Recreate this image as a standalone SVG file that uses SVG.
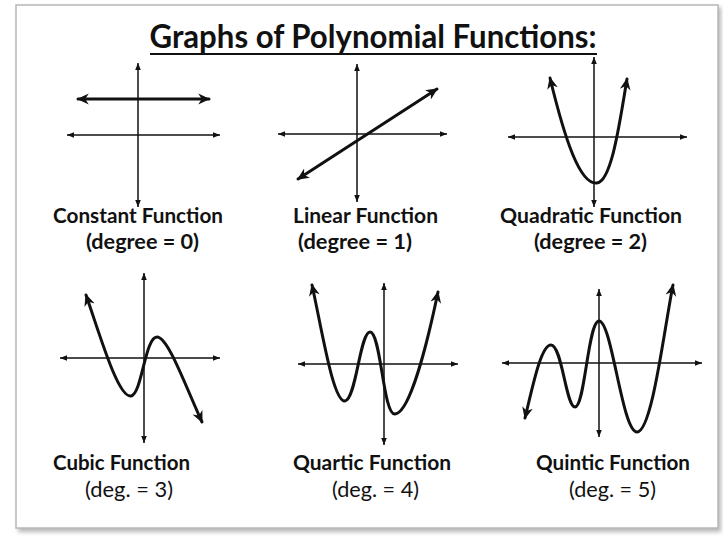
<svg xmlns="http://www.w3.org/2000/svg" width="723" height="536" viewBox="0 0 723 536">
  <defs>
    <marker id="ax" viewBox="0 0 10 10" refX="10" refY="5" markerWidth="7" markerHeight="7" markerUnits="userSpaceOnUse" orient="auto-start-reverse">
      <path d="M0,1 L10,5 L0,9 z" fill="#111"/>
    </marker>
    <marker id="cv" viewBox="0 0 10 10" refX="9" refY="5" markerWidth="12" markerHeight="12" markerUnits="userSpaceOnUse" orient="auto-start-reverse">
      <path d="M0,0.5 L10,5 L0,9.5 L3,5 z" fill="#111"/>
    </marker>
    <filter id="sh" x="-5%" y="-5%" width="110%" height="110%">
      <feGaussianBlur stdDeviation="2"/>
    </filter>
  </defs>
  <style>
    .axis { stroke: #111; stroke-width: 1.5; fill: none; marker-start: url(#ax); marker-end: url(#ax); }
    .curve { stroke: #111; stroke-width: 3; fill: none; stroke-linecap: round; marker-start: url(#cv); marker-end: url(#cv); }
    .t { font-family: Lato, "Open Sans", "Liberation Sans", sans-serif; fill: #111; }
    .name { font-size: 21px; font-weight: bold; }
    .degb { font-size: 21px; font-weight: bold; }
    .deg { font-size: 21px; font-weight: normal; }
  </style>

  <rect width="723" height="536" fill="#ffffff"/>
  <rect x="18" y="7" width="703" height="525" fill="#888" opacity="0.6" filter="url(#sh)"/>
  <rect x="16" y="5" width="702" height="523" fill="#ffffff" stroke="#b8b8b8" stroke-width="1.5"/>

  <g id="title">
    <text class="t" x="373" y="48" text-anchor="middle" font-size="32" font-weight="bold" textLength="447" lengthAdjust="spacingAndGlyphs">Graphs of Polynomial Functions:</text>
    <line x1="150" y1="54" x2="597" y2="54" stroke="#111" stroke-width="2"/>
  </g>

  <g id="constant">
    <line class="axis" x1="138" y1="207" x2="138" y2="63"/>
    <line class="axis" x1="67" y1="135" x2="220" y2="135"/>
    <line class="curve" x1="78" y1="99" x2="209" y2="99"/>
    <text class="t name" x="53" y="223" textLength="170" lengthAdjust="spacingAndGlyphs">Constant Function</text>
    <text class="t degb" x="86" y="249" textLength="113" lengthAdjust="spacingAndGlyphs">(degree = 0)</text>
  </g>

  <g id="linear">
    <line class="axis" x1="357" y1="202" x2="357" y2="64"/>
    <line class="axis" x1="278" y1="134" x2="447" y2="134"/>
    <line class="curve" x1="298" y1="179" x2="437" y2="89"/>
    <text class="t name" x="293" y="223" textLength="145" lengthAdjust="spacingAndGlyphs">Linear Function</text>
    <text class="t degb" x="298" y="249" textLength="114" lengthAdjust="spacingAndGlyphs">(degree = 1)</text>
  </g>

  <g id="quadratic">
    <line class="axis" x1="594" y1="207" x2="594" y2="57"/>
    <line class="axis" x1="508" y1="137" x2="687" y2="137"/>
    <path class="curve" d="M550,78 C565,140 580,185 597,183 C612,181 620,120 627,79"/>
    <text class="t name" x="500" y="223" textLength="182" lengthAdjust="spacingAndGlyphs">Quadratic Function</text>
    <text class="t degb" x="534" y="249" textLength="113" lengthAdjust="spacingAndGlyphs">(degree = 2)</text>
  </g>

  <g id="cubic">
    <line class="axis" x1="144" y1="443" x2="144" y2="273"/>
    <line class="axis" x1="60" y1="358" x2="220" y2="358"/>
    <path class="curve" d="M86,295 C100,335 118,398 131,396 C142,394 145,337 157,337 C168,337 185,385 202,422"/>
    <text class="t name" x="53" y="470" textLength="137" lengthAdjust="spacingAndGlyphs">Cubic Function</text>
    <text class="t deg" x="85" y="497" textLength="88" lengthAdjust="spacingAndGlyphs">(deg. = 3)</text>
  </g>

  <g id="quartic">
    <line class="axis" x1="384" y1="445" x2="384" y2="283"/>
    <line class="axis" x1="298" y1="364" x2="458" y2="364"/>
    <path class="curve" d="M312,285 C322,330 333,402 345,401 C356,400 360,332 370,332 C381,332 383,415 395,414 C410,413 428,340 438,292"/>
    <text class="t name" x="293" y="470" textLength="158" lengthAdjust="spacingAndGlyphs">Quartic Function</text>
    <text class="t deg" x="332" y="497" textLength="87" lengthAdjust="spacingAndGlyphs">(deg. = 4)</text>
  </g>

  <g id="quintic">
    <line class="axis" x1="599" y1="437" x2="599" y2="289"/>
    <line class="axis" x1="502" y1="363" x2="702" y2="363"/>
    <path class="curve" d="M525,418 C533,385 541,345 551,345 C562,345 566,407 575,407 C585,407 588,321 599,321 C612,321 622,432 637,432 C652,432 664,330 673,285"/>
    <text class="t name" x="536" y="470" textLength="154" lengthAdjust="spacingAndGlyphs">Quintic Function</text>
    <text class="t deg" x="569" y="497" textLength="87" lengthAdjust="spacingAndGlyphs">(deg. = 5)</text>
  </g>

  <g id="connectors"></g>
</svg>
